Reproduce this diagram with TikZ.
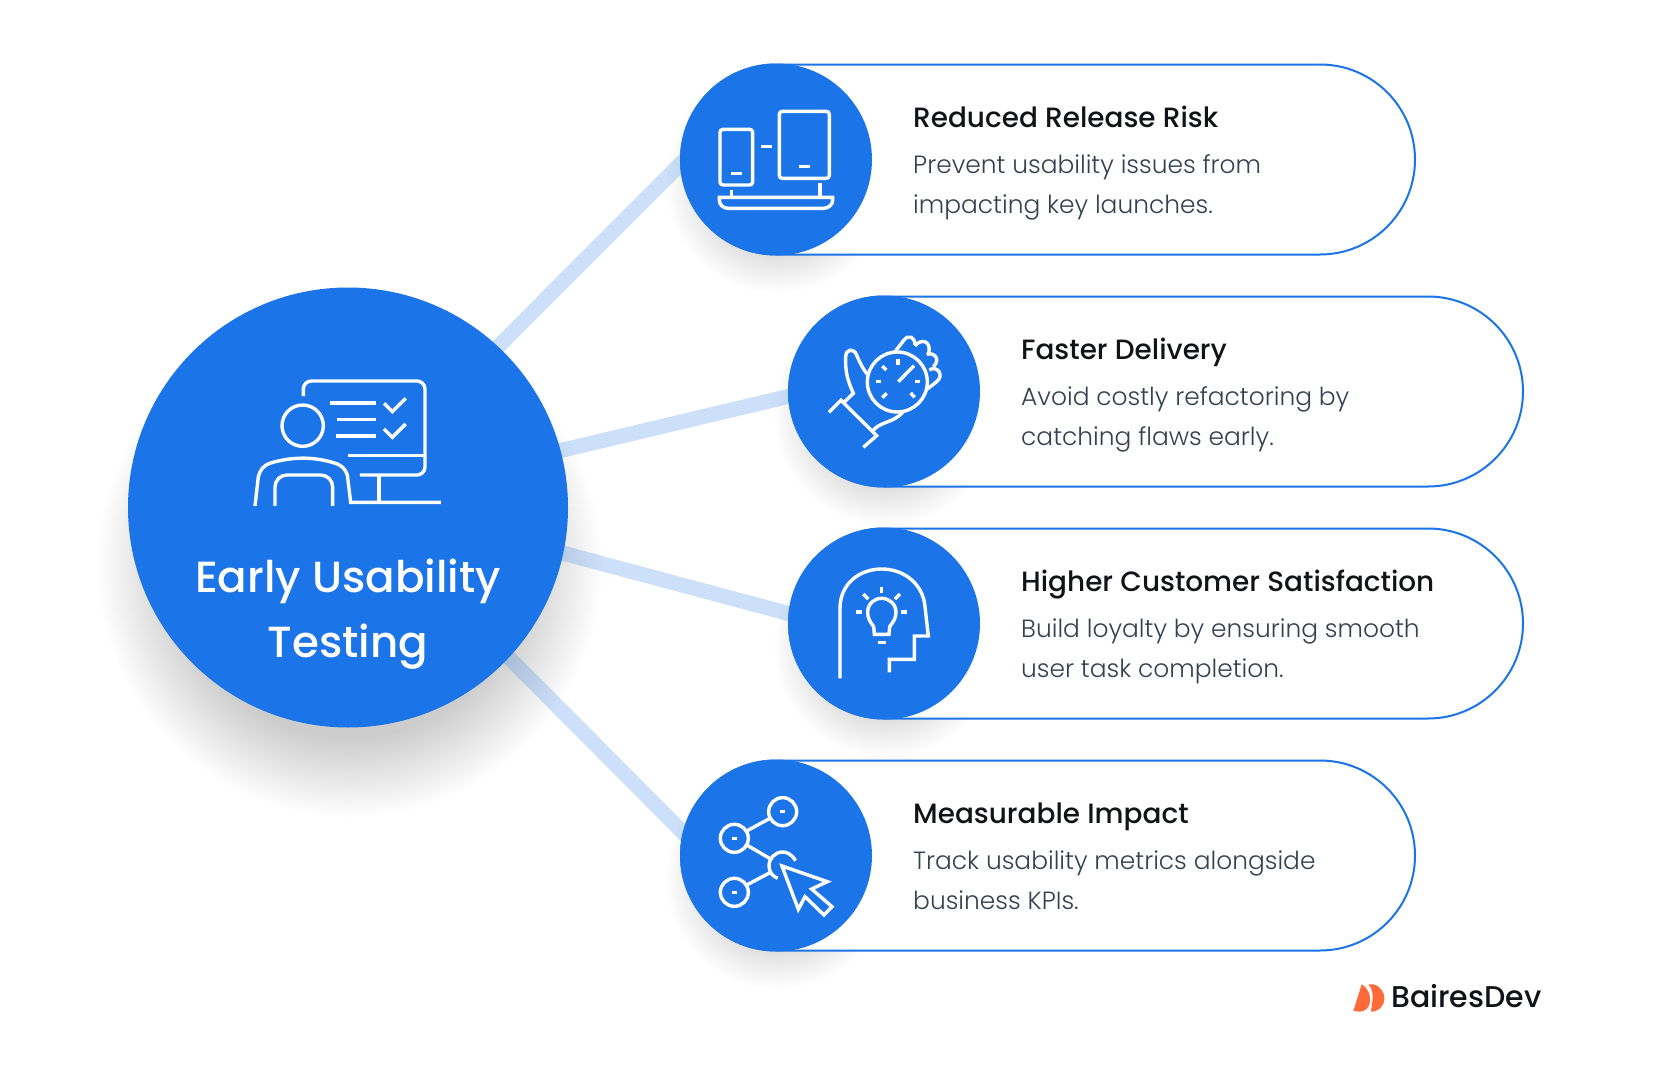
\documentclass[tikz,border=0pt]{standalone}
\usepackage{fontspec}
\setmainfont{Poppins}
\newfontfamily\medfont{Poppins Medium}
\newfontfamily\lightfont{Poppins Light}
\usetikzlibrary{backgrounds}
\definecolor{brandblue}{HTML}{1B74E8}
\definecolor{bodygrey}{HTML}{364050}
\definecolor{inkblack}{HTML}{111317}
\definecolor{logoorange}{HTML}{FF6A3A}

\begin{document}
\begin{tikzpicture}[
  x=1pt,y=-1pt,
  every node/.style={inner sep=0pt},
  hub/.style={circle,fill=brandblue,minimum size=440pt},
  hubtext/.style={anchor=base,text=white,font=\medfont\fontsize{43.6}{48}\selectfont},
  pill/.style={draw=brandblue,fill=white,line width=2pt,rounded corners=95pt,minimum height=190pt,minimum width=734pt,anchor=west},
  badge/.style={circle,fill=brandblue,minimum size=192pt},
  headline/.style={anchor=base west,text=inkblack,font=\medfont\fontsize{27.9}{30}\selectfont},
  bodyline/.style={anchor=base west,text=bodygrey,font=\lightfont\fontsize{24.9}{30}\selectfont},
  logotext/.style={anchor=base west,text=inkblack,font=\medfont\fontsize{30}{30}\selectfont},
  connector/.style={draw=brandblue,draw opacity=.22,line width=15pt,shorten >=-12pt,shorten <=-12pt},
  iconline/.style={draw=white,line width=3.4pt},
  softlayer/.style={fill=black,fill opacity=.006},
  zoomed/.style={x=.3333pt,y=-.3333pt}
]
\useasboundingbox (0,0) rectangle (1668,1076);

\node[hub] (hub) at (348,507.5) {};
\node[hubtext] (hubA) at (348,592.5) {Early Usability};
\node[hubtext] (hubB) at (348,657) {Testing};

\begin{scope}[on background layer]
  \fill[white] (0,0) rectangle (1668,1076);
\end{scope}

% cards
\foreach \nm/\xa/\ya/\ttl/\lineA/\lineB in {
  A/776/159.5/Reduced Release Risk/Prevent usability issues from/impacting key launches.,
  B/884/391.5/Faster Delivery/Avoid costly refactoring by/catching flaws early.,
  C/884/623.5/Higher Customer Satisfaction/Build loyalty by ensuring smooth/user task completion.,
  D/776/855.5/Measurable Impact/Track usability metrics alongside/business KPIs.}{
  \node[pill] (pill\nm) at (\xa-96,\ya) {};
  \node[badge] (badge\nm) at (\xa,\ya) {};
  \node[headline] (head\nm) at (\xa+137,\ya-32) {\ttl};
  \node[bodyline] (first\nm) at (\xa+137,\ya+13.5) {\lineA};
  \node[bodyline] (second\nm) at (\xa+137,\ya+53.5) {\lineB};
  \begin{scope}[on background layer]
    \foreach \i in {0,...,15}
      \fill[softlayer] (\xa+2,\ya+22) circle[radius=74+2.5*\i];
  \end{scope}
}

\begin{scope}[on background layer]
  \foreach \i in {0,...,24}
    \fill[softlayer] (350,565) circle[radius=175+3.2*\i];
  \draw[connector] (hub.47) -- (badgeA.183);
  \draw[connector] (hub.15.7) -- (badgeB.183);
  \draw[connector] (hub.-12.7) -- (badgeC.174.4);
  \draw[connector] (hub.-43.8) -- (badgeD.166.5);
\end{scope}

% hub icon
\begin{scope}[shift={(230,360)},zoomed,iconline]
  \draw[rounded corners=8pt] (220,108) -- (220,63) -- (585,63) -- (585,345) -- (390,345);
  \draw (355,287) -- (585,287);
  \draw (447,345) -- (447,427);
  \draw (633,427) -- (362,427) -- (352,345) .. controls (345,325) and (335,315) .. (310,308) .. controls (250,290) and (190,290) .. (125,308) .. controls (100,315) and (90,330) .. (85,350) -- (75,438);
  \draw (218,197) circle[radius=62];
  \draw (300,129) -- (437,129);
  \draw (322,179) -- (437,179);
  \draw (318,228) -- (437,228);
  \draw (462,130) -- (487,155) -- (527,115);
  \draw (462,207) -- (487,232) -- (527,192);
  \draw[rounded corners=12pt] (135,438) -- (135,345) -- (308,345) -- (308,438);
\end{scope}

% devices
\begin{scope}[shift={(660,50)},zoomed,iconline]
  \draw[rounded corners=3pt] (180,238) rectangle (278,405);
  \draw[rounded corners=3pt] (358,184) rectangle (508,385);
  \draw (213,371) -- (245,371);
  \draw (417,350) -- (449,350);
  \draw (302,289) -- (335,289);
  \draw (215,420) -- (215,442);
  \draw (480,400) -- (480,442);
  \draw (178,442) -- (518,442) -- (518,450) .. controls (518,465) and (505,475) .. (490,475) -- (205,475) .. controls (190,475) and (178,465) .. (178,450) -- cycle;
\end{scope}

% stopwatch in hand
\begin{scope}[shift={(780,285)},zoomed,iconline]
  \draw (352,291) circle[radius=90];
  \draw (354,222) -- (354,240);
  \draw (289,290) -- (304,290);
  \draw (406,290) -- (421,290);
  \draw (307,243) -- (319,255);
  \draw (392,324) -- (404,337);
  \draw (320,325) -- (307,338);
  \draw (355,290) -- (402,242);
  \draw (147,382) -- (183,346) -- (290,452) -- (250,487);
  \draw (192,352) -- (220,325) .. controls (205,290) and (195,265) .. (197,215) .. controls (198,190) and (222,190) .. (230,210) .. controls (240,235) and (248,250) .. (262,268);
  \draw (277,440) .. controls (295,410) and (340,415) .. (368,382);
  \draw (345,200) -- (372,165) .. controls (385,148) and (405,155) .. (405,180);
  \draw (405,183) .. controls (420,160) and (458,165) .. (445,208);
  \draw (440,208) .. controls (465,200) and (482,225) .. (460,245);
  \draw (448,255) .. controls (470,240) and (495,270) .. (470,290) -- (442,312);
\end{scope}

% head with bulb
\begin{scope}[shift={(780,520)},zoomed,iconline]
  \draw (180,475) -- (180,265) .. controls (180,190) and (240,147) .. (305,147) .. controls (375,147) and (430,195) .. (435,260) -- (445,348) -- (403,348) -- (403,418) -- (328,418) -- (328,457);
  \draw (283,343) -- (281,320) .. controls (270,305) and (263,295) .. (263,277) .. controls (263,252) and (282,235) .. (305,235) .. controls (328,235) and (348,252) .. (348,277) .. controls (348,295) and (340,305) .. (329,320) -- (327,343) -- cycle;
  \draw (293,368) -- (317,368);
  \draw (305,200) -- (305,218);
  \draw (250,222) -- (265,237);
  \draw (360,222) -- (345,237);
  \draw (229,276) -- (247,276);
  \draw (363,276) -- (381,276);
\end{scope}

% network and pointer
\begin{scope}[shift={(680,760)},zoomed,iconline]
  \draw (308,155) circle[radius=42];
  \draw (163,235) circle[radius=42];
  \draw (163,397) circle[radius=42];
  \draw (300,155) -- (316,155);
  \draw (157,235) -- (171,235);
  \draw (157,397) -- (171,397);
  \draw (200,213) -- (270,175);
  \draw (200,255) -- (272,297);
  \draw (200,375) -- (272,337);
  \draw (347,302) .. controls (337,285) and (320,275) .. (308,276) .. controls (285,276) and (267,295) .. (267,318) .. controls (267,335) and (278,350) .. (293,355);
  \draw (306,318) -- (442,365) -- (395,387) -- (456,440) -- (432,465) -- (375,410) -- (355,448) -- cycle;
\end{scope}

% logo
\begin{scope}[shift={(1340,970)},zoomed]
  \fill[logoorange] (40,123) -- (65,43) .. controls (85,55) and (92,75) .. (90,95) .. controls (88,115) and (75,123) .. (60,125) -- cycle;
  \fill[logoorange] (93,125) -- (97,95) .. controls (100,75) and (97,55) .. (85,43) -- (100,43) .. controls (125,50) and (133,70) .. (133,85) .. controls (133,110) and (115,125) .. (93,125) -- cycle;
\end{scope}
\node[logotext] (logo) at (1391,1007) {BairesDev};
\end{tikzpicture}
\end{document}
